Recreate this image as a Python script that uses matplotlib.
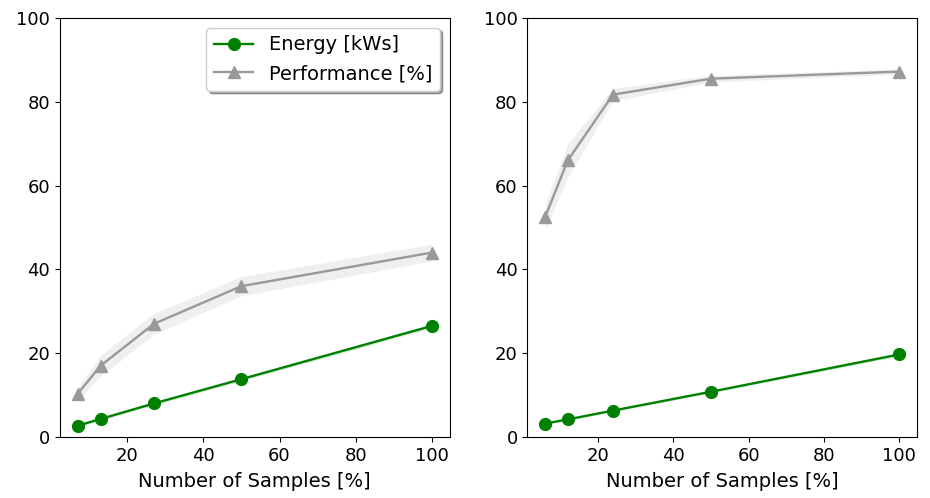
import numpy as np
import matplotlib
matplotlib.use("Agg")
import matplotlib.pyplot as plt

# left panel
samples_a = [7, 13, 27, 50, 100]
energy_a = [2.7, 4.3, 8.0, 13.8, 26.5]
energy_a_std = [0.3, 0.3, 0.4, 0.4, 0.5]
perf_a = [10.3, 17.0, 27.0, 36.0, 44.0]
perf_a_std = [1.5, 2.5, 2.5, 2.3, 2.0]

# right panel
samples_b = [6, 12, 24, 50, 100]
energy_b = [3.2, 4.2, 6.3, 10.8, 19.7]
energy_b_std = [0.2, 0.2, 0.3, 0.3, 0.4]
perf_b = [52.5, 66.0, 81.7, 85.5, 87.2]
perf_b_std = [3.0, 4.0, 1.5, 0.8, 0.6]

plt.rcParams["font.size"] = 13
plt.rcParams["axes.labelsize"] = 14
plt.rcParams["legend.fontsize"] = 14

fig, axes = plt.subplots(1, 2, figsize=(9.3, 4.98), dpi=100)
fig.subplots_adjust(left=0.0645, right=0.986, bottom=0.1225, top=0.964, wspace=0.2)

panels = [
    (samples_a, energy_a, energy_a_std, perf_a, perf_a_std),
    (samples_b, energy_b, energy_b_std, perf_b, perf_b_std),
]

for i, (ax, (x, e, es, p, ps)) in enumerate(zip(axes, panels)):
    x = np.array(x)
    e, es, p, ps = map(np.array, (e, es, p, ps))
    ax.plot(x, e, color="green", marker="o", markersize=8.5, lw=1.7, label="Energy [kWs]")
    ax.fill_between(x, e - es, e + es, color="green", alpha=0.15, lw=0)
    ax.plot(x, p, color="#999999", marker="^", markersize=8.5, lw=1.7, label="Performance [%]")
    ax.fill_between(x, p - ps, p + ps, color="grey", alpha=0.12, lw=0)
    ax.set_ylim(0, 100)
    ax.set_xlabel("Number of Samples [%]", labelpad=5)
    ax.set_xticks([20, 40, 60, 80, 100])
    if i == 0:
        ax.legend(loc="upper right", shadow=True, fancybox=True)

fig.savefig("out.png", dpi=100)
